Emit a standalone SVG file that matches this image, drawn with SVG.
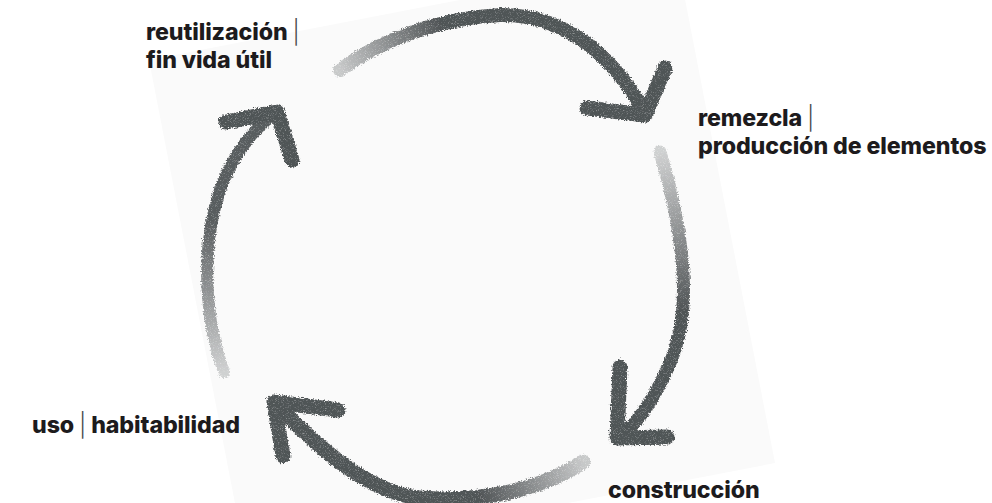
<svg xmlns="http://www.w3.org/2000/svg" width="992" height="503" viewBox="0 0 992 503">
  <defs>
    <style>
      .lbl { font-family: "Inter", "Lato", "Liberation Sans", sans-serif; font-weight: 800; font-size: 23.2px; fill: #1d1b1d; letter-spacing: -0.1px; }
      .bar { font-weight: 300; fill: #4a4a4a; }
      .arrow { fill: none; stroke-linecap: round; stroke-linejoin: round; }
      .head { stroke: #505456; stroke-width: 15; }
    </style>
    <filter id="crayon" x="-20%" y="-20%" width="140%" height="140%">
      <feTurbulence type="fractalNoise" baseFrequency="0.7" numOctaves="2" seed="3" result="noise"/>
      <feDisplacementMap in="SourceGraphic" in2="noise" scale="5" xChannelSelector="R" yChannelSelector="G" result="d"/>
      <feTurbulence type="fractalNoise" baseFrequency="1.4" numOctaves="1" seed="7" result="grain"/>
      <feColorMatrix in="grain" type="matrix" values="0 0 0 0 0  0 0 0 0 0  0 0 0 0 0  1.4 0 0 0 0.35" result="galpha"/>
      <feComposite in="d" in2="galpha" operator="in" result="g"/>
      <feGaussianBlur in="g" stdDeviation="0.7"/>
    </filter>
    <linearGradient id="gTop" gradientUnits="userSpaceOnUse" x1="340" y1="70" x2="440" y2="22">
      <stop offset="0" stop-color="#505456" stop-opacity="0.3"/>
      <stop offset="1" stop-color="#505456" stop-opacity="1"/>
    </linearGradient>
    <linearGradient id="gRight" gradientUnits="userSpaceOnUse" x1="660" y1="152" x2="688" y2="310">
      <stop offset="0" stop-color="#505456" stop-opacity="0.25"/>
      <stop offset="1" stop-color="#505456" stop-opacity="1"/>
    </linearGradient>
    <linearGradient id="gBottom" gradientUnits="userSpaceOnUse" x1="583" y1="462" x2="480" y2="500">
      <stop offset="0" stop-color="#505456" stop-opacity="0.3"/>
      <stop offset="1" stop-color="#505456" stop-opacity="1"/>
    </linearGradient>
    <linearGradient id="gLeft" gradientUnits="userSpaceOnUse" x1="224" y1="372" x2="212" y2="220">
      <stop offset="0" stop-color="#505456" stop-opacity="0.25"/>
      <stop offset="1" stop-color="#505456" stop-opacity="0.95"/>
    </linearGradient>
  </defs>

  <rect width="992" height="503" fill="#ffffff"/>
  <polygon points="149,60 677,-42 775,463 247,565" fill="#fafafa"/>

  <g id="connectors" filter="url(#crayon)">
    <g id="arrow-top">
      <path class="arrow" d="M340,70 C380,40 440,18 500,15 C560,14 610,50 645,113" stroke="url(#gTop)" stroke-width="14"/>
      <path class="arrow head" d="M587,108 L645,115 L665,68"/>
    </g>
    <g id="arrow-right">
      <path class="arrow" d="M660,152 C680,220 695,300 672,358 C657,395 640,420 620,438" stroke="url(#gRight)" stroke-width="13"/>
      <path class="arrow head" d="M620,367 L617,438 L667,437"/>
    </g>
    <g id="arrow-bottom">
      <path class="arrow" d="M583,462 C540,490 480,503 420,498 C370,493 320,450 275,403" stroke="url(#gBottom)" stroke-width="15"/>
      <path class="arrow head" d="M338,410 L274,402 L283,456"/>
    </g>
    <g id="arrow-left">
      <path class="arrow" d="M224,372 C205,320 200,250 220,190 C235,150 255,128 277,112" stroke="url(#gLeft)" stroke-width="12"/>
      <path class="arrow head" d="M226,122 L277,112 L292,160"/>
    </g>
  </g>

  <g id="node-reutilizacion">
    <text class="lbl" x="146" y="40">reutilización <tspan class="bar">|</tspan></text>
    <text class="lbl" x="146" y="68">fin vida útil</text>
  </g>
  <g id="node-remezcla">
    <text class="lbl" x="698" y="126">remezcla <tspan class="bar">|</tspan></text>
    <text class="lbl" x="698" y="154">producción de elementos</text>
  </g>
  <g id="node-construccion">
    <text class="lbl" x="608" y="498">construcción</text>
  </g>
  <g id="node-uso">
    <text class="lbl" x="32" y="433">uso <tspan class="bar">|</tspan> habitabilidad</text>
  </g>
</svg>
